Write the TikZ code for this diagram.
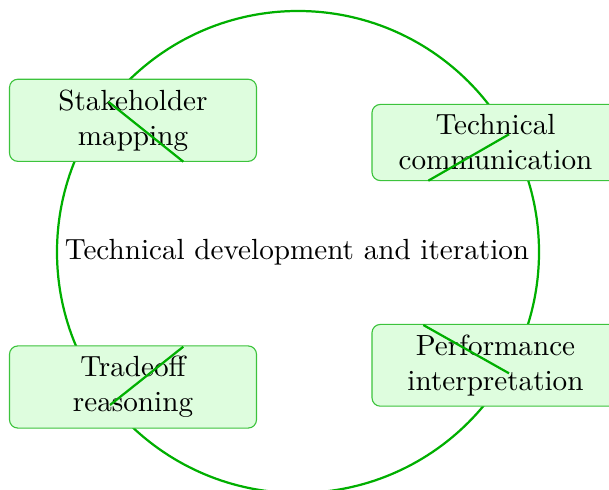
\documentclass[tikz,border=0pt]{standalone}
\usetikzlibrary{calc}
\definecolor{ringgreen}{RGB}{0,175,0}
\definecolor{boxborder}{RGB}{60,195,60}
\definecolor{boxfill}{RGB}{222,253,222}
\begin{document}
\begin{tikzpicture}[x=0.36pt,y=-0.36pt,
  stagebox/.style={draw=boxborder, fill=boxfill, rounded corners=3pt, align=center,
    minimum width=247*0.36pt, inner xsep=3.4pt, inner ysep=3.7pt, font=\fontsize{10.5}{12.6}\selectfont},
  ring/.style={draw=ringgreen, thick},
  cross/.style={draw=ringgreen, thick}]
\useasboundingbox (0,0) rectangle (609,490);
\node[ring, circle, minimum size=482*0.36pt, inner sep=0pt] (ringc) at (298,252) {};
\node (centre) at (297,252) {\fontsize{10.5}{12}\selectfont Technical development and iteration};
\node[stagebox] (s1) at (133,120.3) {Stakeholder\\mapping};
\node[stagebox] (s2) at (495.5,142.5) {Technical\\communication};
\node[stagebox] (s3) at (133,387) {Tradeoff\\reasoning};
\node[stagebox] (s4) at (495.5,365.3) {Performance\\interpretation};
\coordinate (a1) at (108.3,101.7);
\coordinate (b1) at (183.3,161.7);
\coordinate (a2) at (509,134.3);
\coordinate (b2) at (428.3,180.7);
\coordinate (a3) at (183.3,346.7);
\coordinate (b3) at (110,405);
\coordinate (a4) at (423.3,325);
\coordinate (b4) at (509,373.3);
\draw[cross] (a1) -- (b1);
\draw[cross] (a2) -- (b2);
\draw[cross] (a3) -- (b3);
\draw[cross] (a4) -- (b4);
\end{tikzpicture}
\end{document}
